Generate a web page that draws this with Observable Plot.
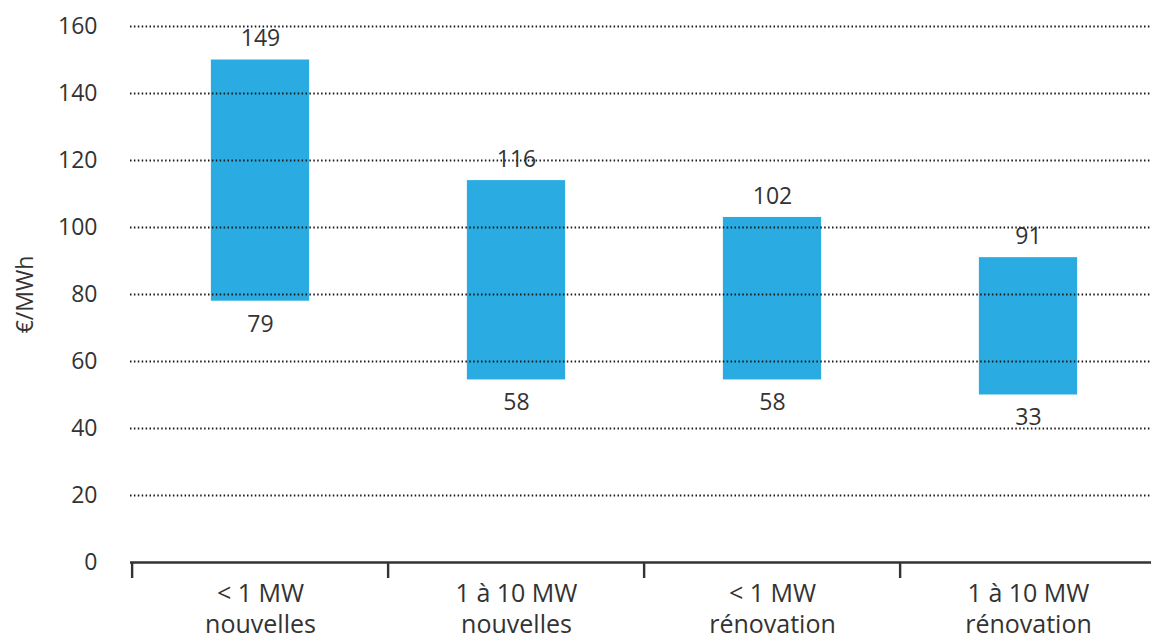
<!DOCTYPE html>
<html>
<head>
<meta charset="utf-8">
<script src="https://cdn.jsdelivr.net/npm/d3@7"></script>
<script src="https://cdn.jsdelivr.net/npm/@observablehq/plot@0.6"></script>
<style>
  html, body { margin: 0; padding: 0; background: #fff; overflow: hidden; }
  #chart svg { display: block; overflow: visible; }
</style>
</head>
<body>
<div id="chart"></div>
<script>
// Categories (two-line labels)
const categories = ["< 1 MW\nnouvelles", "1 à 10 MW\nnouvelles", "< 1 MW\nrénovation", "1 à 10 MW\nrénovation"];
// Bar extents as drawn (€/MWh)
const lows  = [78, 54.5, 54.5, 50];
const highs = [150, 114, 103, 91];
// Printed value labels
const lowLabels  = ["79", "58", "58", "33"];
const highLabels = ["149", "116", "102", "91"];
// Y ticks
const yTicks = [0, 20, 40, 60, 80, 100, 120, 140, 160];

const data = categories.map((c, i) => ({cat: c, lo: lows[i], hi: highs[i], loL: lowLabels[i], hiL: highLabels[i]}));

const W = 1151, H = 638, ML = 130, MR = -6, MT = 26, MB = 76;
const bw = (W - ML - MR) / categories.length;
const barW = 99;
const font = "'Open Sans', sans-serif";
const ink = "#333333";

const chart = Plot.plot({
  width: W,
  height: H,
  marginLeft: ML,
  marginRight: MR,
  marginTop: MT,
  marginBottom: MB,
  style: {fontFamily: font, fontSize: "23px", color: ink, background: "#fff", overflow: "visible"},
  x: {domain: categories, padding: 0, axis: null},
  y: {domain: [0, 160], axis: null},
  marks: [
    Plot.barY(data, {x: "cat", y1: "lo", y2: "hi", fill: "#2AACE2", insetLeft: (bw - barW) / 2, insetRight: (bw - barW) / 2}),
    Plot.ruleY(yTicks.filter(d => d > 0), {stroke: "#1a1a1a", strokeWidth: 1.9, strokeDasharray: "1.5,2.4"}),
    Plot.ruleY([0], {stroke: ink, strokeWidth: 2.4}),
    Plot.ruleX(categories, {x: d => d, dx: -bw / 2, stroke: ink, strokeWidth: 2.4, insetTop: H - MT - MB, insetBottom: -16}),
    Plot.axisY({ticks: yTicks, tickSize: 0, tickPadding: 33, fontSize: 23, label: "€/MWh", labelAnchor: "center", labelArrow: "none", labelOffset: 114, fill: ink}),
    Plot.text(data, {x: "cat", y: "hi", text: "hiL", dy: -21, fontSize: 23, fill: ink}),
    Plot.text(data, {x: "cat", y: "lo", text: "loL", dy: 23, fontSize: 23, fill: ink}),
    Plot.text(data, {x: "cat", text: "cat", frameAnchor: "bottom", lineAnchor: "top", dy: 17, fontSize: 25, lineHeight: 1.25, fill: ink})
  ]
});
document.getElementById("chart").appendChild(chart);
</script>
</body>
</html>
